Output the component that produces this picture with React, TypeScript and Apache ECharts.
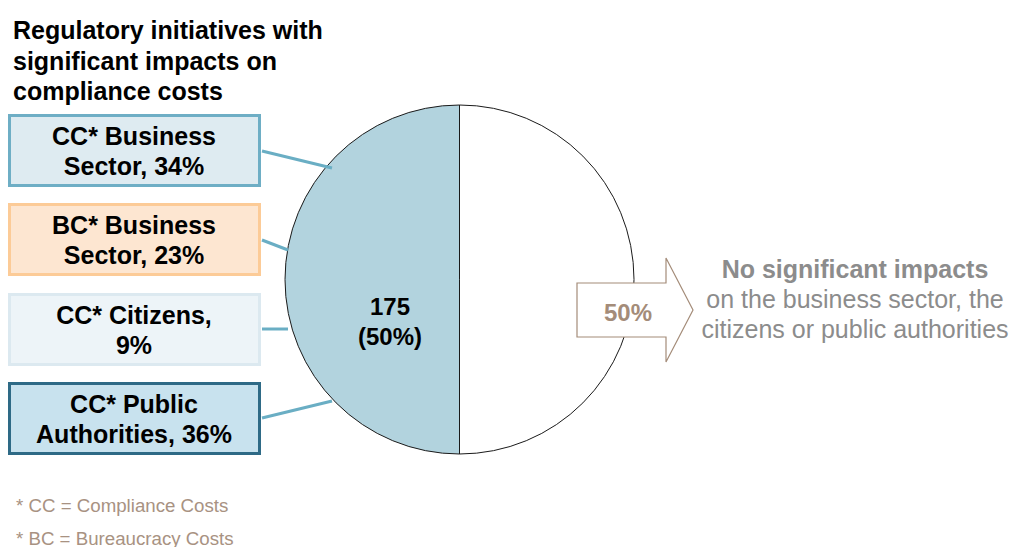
import React, { useEffect, useRef } from "react";
import * as echarts from "echarts";

const sliceNames = ["No significant impacts", "Significant impacts on compliance costs"];
const sliceValues = [175, 175];
const slicePercents = [50, 50];

const boxLabels = ["CC* Business\nSector, 34%", "BC* Business\nSector, 23%", "CC* Citizens,\n9%", "CC* Public\nAuthorities, 36%"];
const boxShares = [34, 23, 9, 36];

const titleText = "Regulatory initiatives with\nsignificant impacts on\ncompliance costs";
const rightTitle = "No significant impacts";
const rightSub = "on the business sector, the\ncitizens or public authorities";
const footnotes = ["* CC = Compliance Costs", "* BC = Bureaucracy Costs"];

const FF = "Liberation Sans";

const boxStyles = [
  { fill: "#deebf1", stroke: "#6eaec5" },
  { fill: "#fde6d1", stroke: "#fccb97" },
  { fill: "#edf4f8", stroke: "#dce9f0" },
  { fill: "#c8e2ee", stroke: "#2e6a86" },
];
const boxTops = [114, 203, 293, 382];
const connectors = [
  [[262, 151], [332, 168]],
  [[262, 240], [288, 250]],
  [[262, 329], [288, 329]],
  [[262, 418], [332, 401]],
];

function ts(size: number, bold: boolean, extra: any) {
  return { fontSize: size, fontWeight: bold ? "bold" : "normal", fontFamily: FF, ...extra };
}

export default function App() {
  const ref = useRef<HTMLDivElement>(null);
  useEffect(() => {
    if (!ref.current) return;
    const chart = echarts.init(ref.current, null, { renderer: "svg" });
    const graphics: any[] = [];
    graphics.push({
      type: "text", x: 13, y: 15,
      style: ts(25, true, { text: titleText, fill: "#000", lineHeight: 30.5 }),
    });
    boxLabels.forEach((t, i) => {
      const top = boxTops[i];
      graphics.push({
        type: "rect",
        shape: { x: 9.5, y: top + 1.5, width: 250, height: 70 },
        style: { fill: boxStyles[i].fill, stroke: boxStyles[i].stroke, lineWidth: 3 },
      });
      graphics.push({
        type: "text", x: 134, y: top + 37,
        style: ts(25, true, { text: t, fill: "#000", align: "center", verticalAlign: "middle", lineHeight: 30 }),
      });
      const c = connectors[i];
      graphics.push({
        type: "line",
        shape: { x1: c[0][0], y1: c[0][1], x2: c[1][0], y2: c[1][1] },
        style: { stroke: "#6aaec4", lineWidth: 3 },
        z: 10,
      });
    });
    graphics.push({
      type: "text", x: 390, y: 321,
      style: ts(24, true, { text: `${sliceValues[1]}\n(${slicePercents[1]}%)`, fill: "#000", align: "center", verticalAlign: "middle", lineHeight: 30 }),
      z: 20,
    });
    graphics.push({
      type: "polygon",
      shape: { points: [[577, 283], [666, 283], [666, 258], [693, 310], [666, 362], [666, 337], [577, 337]] },
      style: { fill: "#fff", stroke: "#a48c79", lineWidth: 1.2 },
      z: 20,
    });
    graphics.push({
      type: "text", x: 628, y: 312,
      style: ts(24, true, { text: `${slicePercents[0]}%`, fill: "#a48c79", align: "center", verticalAlign: "middle" }),
      z: 21,
    });
    graphics.push({
      type: "text", x: 855, y: 269,
      style: ts(25, true, { text: rightTitle, fill: "#8c8c8c", align: "center", verticalAlign: "middle" }),
    });
    graphics.push({
      type: "text", x: 855, y: 314,
      style: ts(25, false, { text: rightSub, fill: "#8c8c8c", align: "center", verticalAlign: "middle", lineHeight: 30 }),
    });
    footnotes.forEach((f, i) => {
      graphics.push({
        type: "text", x: 16, y: 505 + i * 33,
        style: ts(18.7, false, { text: f, fill: "#a89282", verticalAlign: "middle" }),
      });
    });

    chart.setOption({
      animation: false,
      backgroundColor: "#fff",
      series: [
        {
          type: "pie",
          center: [459.5, 279.5],
          radius: 174.5,
          startAngle: 90,
          clockwise: true,
          label: { show: false },
          labelLine: { show: false },
          itemStyle: { borderColor: "#1a1a1a", borderWidth: 1 },
          emphasis: { disabled: true },
          data: [
            { name: sliceNames[0], value: sliceValues[0], itemStyle: { color: "#ffffff" } },
            { name: sliceNames[1], value: sliceValues[1], itemStyle: { color: "#b2d3de" } },
          ],
        },
      ],
      graphic: graphics,
    });
    return () => chart.dispose();
  }, []);
  return <div ref={ref} style={{ position: "absolute", left: 0, top: 0, width: 1011, height: 547 }} />;
}
